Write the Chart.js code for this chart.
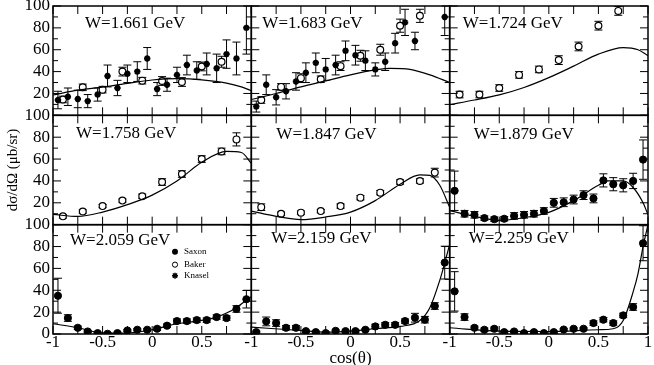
<!DOCTYPE html>
<html><head><meta charset="utf-8">
<script src="https://cdn.jsdelivr.net/npm/chart.js@4"></script>
<style>html,body{margin:0;padding:0;background:#fff;}#wrap{position:relative;width:654px;height:365px;}canvas{display:block;}</style>
</head><body><div id="wrap"><canvas id="c" width="654" height="365"></canvas></div>
<script>
// ---------- data ----------
const W_LABELS = ['W=1.661 GeV','W=1.683 GeV','W=1.724 GeV','W=1.758 GeV','W=1.847 GeV','W=1.879 GeV','W=2.059 GeV','W=2.159 GeV','W=2.259 GeV'];
const X_TICKS = [-1,-0.5,0,0.5,1];
const Y_TICKS = [0,20,40,60,80,100];
const BIN_X = [-0.95,-0.85,-0.75,-0.65,-0.55,-0.45,-0.35,-0.25,-0.15,-0.05,0.05,0.15,0.25,0.35,0.45,0.55,0.65,0.75,0.85,0.95];
const BAKER_X9 = [-0.9,-0.7,-0.5,-0.3,-0.1,0.1,0.3,0.5,0.7];
const BAKER_X10 = [-0.9,-0.7,-0.5,-0.3,-0.1,0.1,0.3,0.5,0.7,0.85];

// W=1.661
const p1KnaselY = [14,17,15,13,19,36,25,38,40,52,24,28,37,46,41,47,43,56,52,80];
const p1KnaselErr = [8,8,8,6,6,10,7,8,9,10,6,6,7,9,8,10,13,13,15,24];
const p1BakerY = [14.5,25.6,23.5,40,31.7,31.4,30.5,44.7,49];
const p1BakerErr = [3,3,3,4,3,4,4,4,5];
const p1ModelX = [-1,-0.75,-0.5,-0.25,0,0.25,0.5,0.75,0.9,1];
const p1ModelY = [18.6,23,25.8,29.3,32.3,33.5,32.5,29.5,26,22.5];
// W=1.683
const p2KnaselX = [-0.95,-0.85,-0.75,-0.65,-0.55,-0.45,-0.35,-0.25,-0.15,-0.05,0.05,0.15,0.25,0.35,0.45,0.55,0.65,0.95];
const p2KnaselY = [8,28,16.5,22,31,39,48,42,46,59,55,50,42,49,66,85,68,90];
const p2KnaselErr = [5,9,7,7,8,9,9,10,9,9,9,9,6,8,9,12,8,17];
const p2BakerY = [14,26,34,33,45,54.5,60,82,91];
const p2BakerErr = [3,3,4,3,4,5,5,6,6];
const p2ModelX = [-1,-0.75,-0.5,-0.25,0,0.25,0.4,0.6,0.8,1];
const p2ModelY = [14.5,20,26,31.5,37,41.5,43,42,37,30];
// W=1.724
const p3BakerY = [19,19,25,37,42,50.5,63,82,95.5];
const p3BakerErr = [3,3,3,3,3,4,4,4,4];
const p3ModelX = [-1,-0.75,-0.5,-0.25,0,0.25,0.5,0.75,0.9,1];
const p3ModelY = [9.8,14,18.7,25.5,34.5,45,56,62,60,54.5];
// W=1.758
const p4BakerY = [7.6,12,17,22,26,39,46.3,60,67,78];
const p4BakerErr = [1.5,1.5,1.5,1.5,2,3,3,3,3,6];
const p4ModelX = [-1,-0.75,-0.5,-0.25,0,0.25,0.5,0.75,0.9,1];
const p4ModelY = [9.4,7.5,11.5,18.3,27,40,57,67,66,56];
// W=1.847
const p5BakerY = [16,10,11,12.4,17,24.7,29.3,39,40,47.6];
const p5BakerErr = [3,1.5,1.5,1.5,2,2,2,2,2,4];
const p5ModelX = [-1,-0.75,-0.5,-0.25,0,0.25,0.5,0.7,0.8,0.9,1];
const p5ModelY = [12.4,7.6,4.6,7,11.5,22,37,45.5,45,36,16];
// W=1.879
const p6SaxonY = [31,10,9,6,5,5.4,8,9,10,12.5,20,20.5,23,27,24,40.5,37,36,40,59.5];
const p6SaxonErr = [18,3,3,2,2,2,3,3,3,3,4,4,4,4,4,6,6,6,7,18];
const p6ModelX = [-1,-0.75,-0.5,-0.25,0,0.25,0.5,0.6,0.75,0.85,0.95,1];
const p6ModelY = [12.8,7.6,3.9,6.4,11.3,22,36,40,40,34,20,9];
// W=2.059
const p7SaxonY = [35,14.6,5.7,2.3,0.8,0.2,0.8,3.2,3.9,3.9,4.8,7.6,11.8,11.8,12.7,12.7,15.5,14.6,22.9,31.8];
const p7SaxonErr = [16,3,1.5,1,1,1,1,1,1,1,1.5,1.5,2,2,2,2,2,2,3,8];
const p7ModelX = [-1,-0.75,-0.5,-0.3,0,0.25,0.5,0.65,0.75,0.85,0.95,1];
const p7ModelY = [9.4,5.7,1,0.8,3.9,9.4,12.4,15.5,19.2,24.1,30.9,34];
// W=2.159
const p8SaxonY = [1.7,11.5,10,5.7,5.7,2.6,1.7,0.8,2.9,2.6,2.6,3.9,6.9,8.4,8.4,11.8,14.9,13.1,25.6,65.3];
const p8SaxonErr = [1,4,3,2,2,1,1,1,1,1,1,1,2,2,2,2,4,3,3,15];
const p8ModelX = [-1,-0.5,-0.25,0,0.25,0.5,0.7,0.8,0.9,0.95,1];
const p8ModelY = [6.3,3.2,1.7,2.6,4.8,6.9,12.4,24,49,65,82];
// W=2.259
const p9SaxonY = [39,15.5,5.7,3.9,4.8,1.7,2.3,0.8,1.7,0.8,1.7,4.1,4.8,4.8,10,13.1,10,17,24.7,83];
const p9SaxonErr = [18,3,1.5,1.5,1.5,1,1,1,1,1,1,1,1,1,2,2,2,2,3,16];
const p9ModelX = [-1,-0.5,0,0.5,0.65,0.75,0.85,0.9,0.95,1];
const p9ModelY = [5.7,2.6,2.3,3.9,4.8,12.4,38.5,55.5,80,100];

// ---------- layout / style (not data) ----------
const FONT = '"Liberation Serif","Times New Roman",serif';
const TITLE_POS = [[32,18],[11,18],[13,18],[23,18],[25,19],[24,19],[17,16],[20,14],[19,14]];

function pts(xs, ys){ return xs.map((x,i)=>({x:x, y:ys[i]})); }
function ax(panel){ return {xAxisID:'x'+(panel%3+1), yAxisID:'y'+(Math.floor(panel/3)+1)}; }
function saxon(panel, ys, errs){ return Object.assign({label:'Saxon', data:pts(BIN_X,ys), errs:errs, pointStyle:'circle', pointRadius:3.6, backgroundColor:'#000', borderColor:'#000', borderWidth:1, showLine:false}, ax(panel)); }
function baker(panel, xs, ys, errs){ return Object.assign({label:'Baker', data:pts(xs,ys), errs:errs, pointStyle:'circle', pointRadius:3.4, backgroundColor:'#fff', borderColor:'#000', borderWidth:1.2, showLine:false}, ax(panel)); }
function knasel(panel, xs, ys, errs){ return Object.assign({label:'Knasel', data:pts(xs,ys), errs:errs, pointStyle:'star', pointRadius:3.2, backgroundColor:'#000', borderColor:'#000', borderWidth:2, showLine:false}, ax(panel)); }
function model(panel, xs, ys){ return Object.assign({label:'model', data:pts(xs,ys), showLine:true, pointRadius:0, borderColor:'#000', borderWidth:1.2, cubicInterpolationMode:'monotone', fill:false}, ax(panel)); }

const datasets = [
  model(0,p1ModelX,p1ModelY), knasel(0,BIN_X,p1KnaselY,p1KnaselErr), baker(0,BAKER_X9,p1BakerY,p1BakerErr),
  model(1,p2ModelX,p2ModelY), knasel(1,p2KnaselX,p2KnaselY,p2KnaselErr), baker(1,BAKER_X9,p2BakerY,p2BakerErr),
  model(2,p3ModelX,p3ModelY), baker(2,BAKER_X9,p3BakerY,p3BakerErr),
  model(3,p4ModelX,p4ModelY), baker(3,BAKER_X10,p4BakerY,p4BakerErr),
  model(4,p5ModelX,p5ModelY), baker(4,BAKER_X10,p5BakerY,p5BakerErr),
  model(5,p6ModelX,p6ModelY), saxon(5,p6SaxonY,p6SaxonErr),
  model(6,p7ModelX,p7ModelY), saxon(6,p7SaxonY,p7SaxonErr),
  model(7,p8ModelX,p8ModelY), saxon(7,p8SaxonY,p8SaxonErr),
  model(8,p9ModelX,p9ModelY), saxon(8,p9SaxonY,p9SaxonErr)
];

function yScale(row){
  return {
    type:'linear', position:'left', stack:'rows', stackWeight:1, weight:3-row,
    min:0, max:100,
    afterBuildTicks:(s)=>{ s.ticks = Y_TICKS.map(v=>({value:v})); },
    grid:{display:false, drawTicks:false}, border:{display:false},
    ticks:{z:2, padding:3, color:'#000', font:{family:FONT,size:17}, autoSkip:false,
      callback:(v)=> (row<2 && v===0) ? null : String(v)},
    title: row===1 ? {display:true, text:'dσ/dΩ (μb/sr)', color:'#000', font:{family:FONT,size:15}, padding:{top:4,bottom:0}} : {display:false},
    afterFit:(s)=>{ s.width=53; s.paddingTop=0; s.paddingBottom=0; }
  };
}
function xScale(col){
  return {
    type:'linear', position:'bottom', stack:'cols', stackWeight:1, weight:col+1,
    min:-1, max:1,
    afterBuildTicks:(s)=>{ s.ticks = X_TICKS.map(v=>({value:v})); },
    grid:{display:false, drawTicks:false}, border:{display:false},
    ticks:{z:2, padding:-2, color:'#000', font:{family:FONT,size:17}, autoSkip:false, maxRotation:0,
      callback:(v)=> (col<2 && v===1) ? null : String(v)},
    title: col===1 ? {display:true, text:'cos(θ)', color:'#000', font:{family:FONT,size:17,lineHeight:0.8}, padding:{top:0,bottom:0}} : {display:false},
    afterFit:(s)=>{ s.height=31; s.paddingLeft=0; s.paddingRight=0; }
  };
}

const panelPlugin = {
  id:'panels',
  beforeDatasetsDraw(chart){
    const ctx = chart.ctx;
    chart.data.datasets.forEach(ds=>{
      if(!ds.errs) return;
      const xs = chart.scales[ds.xAxisID], ys = chart.scales[ds.yAxisID];
      ctx.save();
      ctx.beginPath(); ctx.rect(xs.left, ys.top, xs.right-xs.left, ys.bottom-ys.top); ctx.clip();
      ctx.strokeStyle='#000'; ctx.lineWidth=1;
      ds.data.forEach((p,i)=>{
        const e = ds.errs[i]; if(!e) return;
        const px = xs.getPixelForValue(p.x), y1 = ys.getPixelForValue(p.y+e), y2 = ys.getPixelForValue(p.y-e);
        ctx.beginPath();
        ctx.moveTo(px,y1); ctx.lineTo(px,y2);
        ctx.moveTo(px-4,y1); ctx.lineTo(px+4,y1);
        ctx.moveTo(px-4,y2); ctx.lineTo(px+4,y2);
        ctx.stroke();
      });
      ctx.restore();
    });
  },
  afterDatasetsDraw(chart){
    const ctx = chart.ctx;
    ctx.save();
    ctx.strokeStyle='#000'; ctx.fillStyle='#000';
    for(let p=0;p<9;p++){
      const xs = chart.scales['x'+(p%3+1)], ys = chart.scales['y'+(Math.floor(p/3)+1)];
      const L=xs.left, R=xs.right, T=ys.top, B=ys.bottom;
      ctx.lineWidth=1;
      ctx.beginPath();
      for(let v=-1; v<=1.001; v+=0.25){
        const px = xs.getPixelForValue(v);
        ctx.moveTo(px,B); ctx.lineTo(px,B-8);
        ctx.moveTo(px,T); ctx.lineTo(px,T+8);
      }
      for(let v=0; v<=100; v+=10){
        const py = ys.getPixelForValue(v), len = (v%20===0)?8:5;
        ctx.moveTo(L,py); ctx.lineTo(L+len,py);
        ctx.moveTo(R,py); ctx.lineTo(R-len,py);
      }
      ctx.stroke();
      ctx.lineWidth=1.5;
      ctx.strokeRect(L,T,R-L,B-T);
      ctx.font = '17px '+FONT; ctx.textBaseline='middle'; ctx.textAlign='left';
      ctx.fillText(W_LABELS[p], L+TITLE_POS[p][0], T+TITLE_POS[p][1]);
    }
    // legend in bottom-left panel
    const xs = chart.scales.x1, ys = chart.scales.y3;
    const sx = xs.left+122, tx = xs.left+131;
    const rows = [[ys.top+27,'Saxon'],[ys.top+40,'Baker'],[ys.top+51,'Knasel']];
    ctx.font = '9px '+FONT; ctx.textBaseline='middle';
    rows.forEach((r,i)=>{
      ctx.fillText(r[1], tx, r[0]);
      ctx.lineWidth=1;
      if(i===0){ ctx.beginPath(); ctx.arc(sx,r[0],3,0,Math.PI*2); ctx.fill(); }
      if(i===1){ ctx.beginPath(); ctx.arc(sx,r[0],2.6,0,Math.PI*2); ctx.stroke(); }
      if(i===2){ ctx.lineWidth=1.5; ctx.beginPath();
        for(let k=0;k<4;k++){ const a=k*Math.PI/4; ctx.moveTo(sx-3*Math.cos(a),r[0]-3*Math.sin(a)); ctx.lineTo(sx+3*Math.cos(a),r[0]+3*Math.sin(a)); }
        ctx.stroke(); }
    });
    ctx.restore();
  }
};

new Chart(document.getElementById('c'), {
  type:'scatter',
  data:{datasets:datasets},
  options:{
    responsive:false, animation:false, events:[], devicePixelRatio:1,
    layout:{padding:{top:5,right:3,bottom:0,left:0}},
    plugins:{legend:{display:false}, tooltip:{enabled:false}},
    scales:{ y1:yScale(0), y2:yScale(1), y3:yScale(2), x1:xScale(0), x2:xScale(1), x3:xScale(2) }
  },
  plugins:[panelPlugin]
});
</script></body></html>
